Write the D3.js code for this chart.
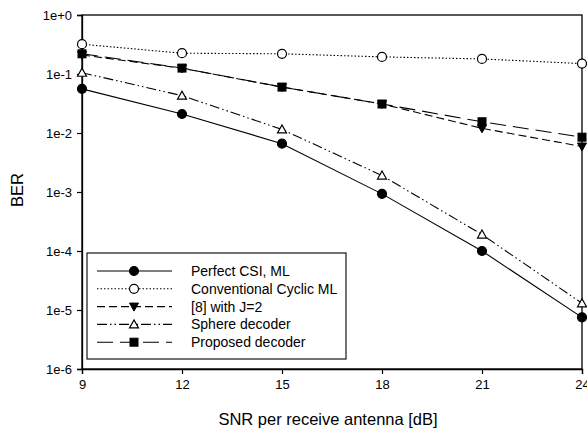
<!DOCTYPE html>
<html>
<head>
<meta charset="utf-8">
<script src="https://cdn.jsdelivr.net/npm/d3@7"></script>
<style>
body { margin: 0; background: #fff; }
text { font-family: "Liberation Sans", Arial, sans-serif; fill: #000; }
</style>
</head>
<body>
<script>
var snr = [9, 12, 15, 18, 21, 24];
var perfectML = [0.056, 0.021, 0.0066, 0.00093, 0.0001, 0.0000075];
var cyclicML = [0.32, 0.225, 0.22, 0.195, 0.18, 0.15];
var ref8 = [0.21, 0.125, 0.06, 0.031, 0.012, 0.0059];
var sphere = [0.105, 0.043, 0.0115, 0.0019, 0.00019, 0.000013];
var proposed = [0.22, 0.126, 0.06, 0.031, 0.0155, 0.0085];
var yTicks = [1, 1e-1, 1e-2, 1e-3, 1e-4, 1e-5, 1e-6];
var yTickLabels = ["1e+0", "1e-1", "1e-2", "1e-3", "1e-4", "1e-5", "1e-6"];

var w = 587, h = 430;
var padL = 82, padR = 582, padT = 15, padB = 369;

var svg = d3.select("body").append("svg").attr("width", w).attr("height", h);

var xScale = d3.scaleLinear().domain([9, 24]).range([padL, padR]);
var yScale = d3.scaleLog().domain([1e-6, 1]).range([padB, padT]);

// frame
svg.append("rect").attr("x", padL).attr("y", padT)
  .attr("width", padR - padL).attr("height", padB - padT)
  .attr("fill", "none").attr("stroke", "#000").attr("stroke-width", 1.3);

var xAxis = svg.append("g").attr("transform", "translate(0," + padB + ")")
  .call(d3.axisBottom(xScale).tickValues(snr).tickSize(5).tickPadding(6));
var yAxis = svg.append("g").attr("transform", "translate(" + padL + ",0)")
  .call(d3.axisLeft(yScale).tickValues(yTicks).tickSize(5).tickPadding(5)
    .tickFormat(function(d, i) { return yTickLabels[i]; }));
[xAxis, yAxis].forEach(function(g) {
  g.select(".domain").attr("stroke-width", 1.3);
  g.selectAll("line").attr("stroke-width", 1.2);
  g.selectAll("text").attr("font-size", "13px").attr("font-family", "Liberation Sans, Arial, sans-serif");
});

svg.append("text").attr("x", 328).attr("y", 425)
  .attr("text-anchor", "middle").attr("font-size", "16.5px")
  .text("SNR per receive antenna [dB]");
svg.append("text").attr("transform", "translate(23,190) rotate(-90)")
  .attr("text-anchor", "middle").attr("font-size", "16.5px").text("BER");

var series = [
  { name: "Perfect CSI, ML", vals: perfectML, dash: null, marker: "circle", fill: "#000" },
  { name: "Conventional Cyclic ML", vals: cyclicML, dash: "1.5,2", marker: "circle", fill: "#fff" },
  { name: "[8] with J=2", vals: ref8, dash: "8,4", marker: "down", fill: "#000" },
  { name: "Sphere decoder", vals: sphere, dash: "10,3,1.5,3,1.5,3", marker: "up", fill: "#fff" },
  { name: "Proposed decoder", vals: proposed, dash: "16,7", marker: "square", fill: "#000" }
];

var line = d3.line().x(function(d) { return xScale(d[0]); }).y(function(d) { return yScale(d[1]); });

function drawMarker(g, type, fill, x, y) {
  if (type === "circle") {
    g.append("circle").attr("cx", x).attr("cy", y).attr("r", 4.5)
      .attr("fill", fill).attr("stroke", "#000").attr("stroke-width", 1.2);
  } else if (type === "square") {
    g.append("rect").attr("x", x - 4).attr("y", y - 4).attr("width", 8).attr("height", 8)
      .attr("fill", fill).attr("stroke", "#000");
  } else if (type === "down") {
    g.append("path").attr("d", "M" + (x - 4.5) + "," + (y - 3.5) + "L" + (x + 4.5) + "," + (y - 3.5) + "L" + x + "," + (y + 4.5) + "Z")
      .attr("fill", fill).attr("stroke", "#000");
  } else {
    g.append("path").attr("d", "M" + (x - 4.5) + "," + (y + 3.5) + "L" + (x + 4.5) + "," + (y + 3.5) + "L" + x + "," + (y - 4.5) + "Z")
      .attr("fill", fill).attr("stroke", "#000").attr("stroke-width", 1.2);
  }
}

series.forEach(function(s) {
  var pts = snr.map(function(x, i) { return [x, s.vals[i]]; });
  svg.append("path").datum(pts).attr("d", line)
    .attr("fill", "none").attr("stroke", "#000").attr("stroke-width", 1.1)
    .attr("stroke-dasharray", s.dash);
  var g = svg.append("g");
  pts.forEach(function(p) { drawMarker(g, s.marker, s.fill, xScale(p[0]), yScale(p[1])); });
});

// legend
var lg = svg.append("g");
lg.append("rect").attr("x", 87).attr("y", 253).attr("width", 259).attr("height", 106)
  .attr("fill", "#fff").attr("stroke", "#000").attr("stroke-width", 1.1);
series.forEach(function(s, i) {
  var y = 271 + i * 17.8;
  lg.append("line").attr("x1", 97).attr("x2", 172).attr("y1", y).attr("y2", y)
    .attr("stroke", "#000").attr("stroke-width", 1.1).attr("stroke-dasharray", s.dash);
  drawMarker(lg, s.marker, s.fill, 134, y);
  lg.append("text").attr("x", 191).attr("y", y + 5).attr("font-size", "14px").text(s.name);
});
</script>
</body>
</html>
